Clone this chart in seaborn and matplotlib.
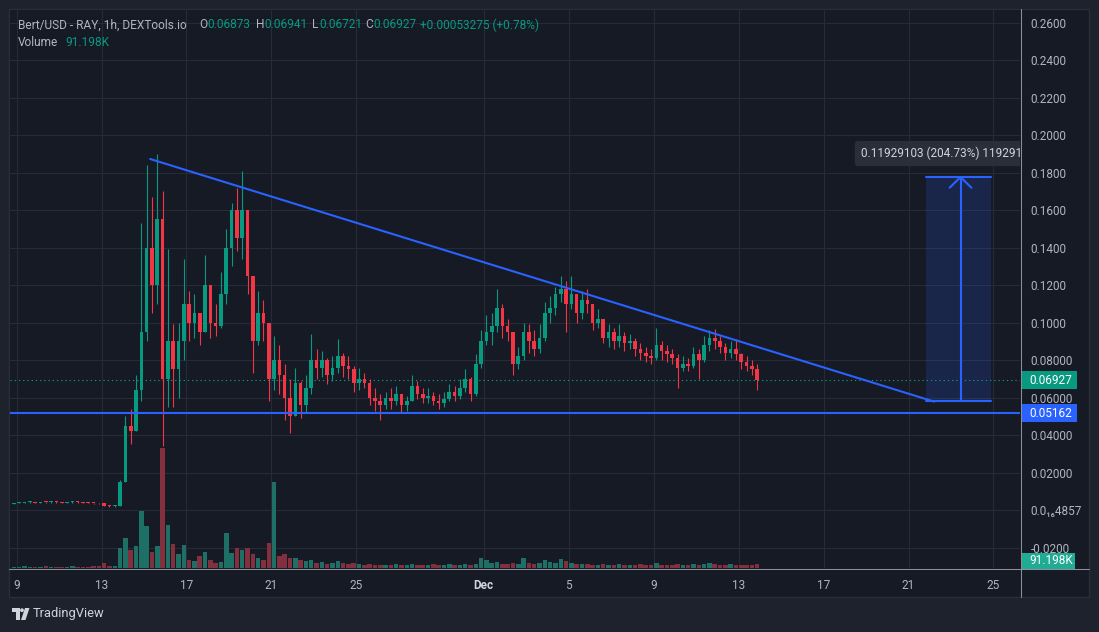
import numpy as np
import pandas as pd
import matplotlib
matplotlib.use("Agg")
import matplotlib.pyplot as plt
import matplotlib.dates as mdates
from matplotlib.patches import Rectangle, Polygon, Circle
import seaborn as sns

# ---------------- data (6-hour bars) ----------------
first_bar = "2024-11-08 18:00"
bar_freq = "6h"
first_open = 0.0034

close = [
    .0036, .0040, .0041, .0043, .0040, .0042, .0041, .0043, .0042, .0040, .0041, .0044, .0042, .0040, .0038, .0037, .0035, .0024, .0020, .0022, .0150,
    .0450, .0420, .0640, .0950, .1400, .1200, .1550, .0700, .0900, .0750, .0900, .1100, .1000, .1050, .0950, .1200, .1000, .0980, .1150, .1400,
    .1600, .1450, .1600, .1250, .0900, .1050, .1000, .0700, .0800, .0720, .0600, .0500, .0680, .0560, .0650, .0800, .0760, .0800, .0720, .0760,
    .0820, .0770, .0750, .0680, .0700, .0680, .0600, .0580, .0560, .0600, .0580, .0620, .0560, .0580, .0660, .0620, .0600, .0610, .0580, .0570,
    .0590, .0630, .0610, .0650, .0700, .0620, .0780, .0900, .0950, .0980, .1080, .0980, .0950, .0780, .0820, .0950, .0900, .0860, .0920, .1050,
    .1080, .1150, .1180, .1100, .1150, .1050, .1120, .1100, .1000, .1020, .0920, .0950, .0900, .0930, .0890, .0900, .0860, .0840, .0820, .0810,
    .0880, .0850, .0830, .0810, .0760, .0780, .0770, .0830, .0800, .0880, .0920, .0900, .0870, .0840, .0860, .0830, .0790, .0770, .0750, .06927,
]
high = [
    .0040, .0043, .0044, .0046, .0045, .0045, .0044, .0049, .0046, .0044, .0044, .0047, .0046, .0044, .0042, .0040, .0039, .0038, .0026, .0025, .0160,
    .0500, .0540, .0720, .1530, .1840, .1670, .1900, .1700, .1390, .0990, .1000, .1340, .1170, .1150, .1050, .1360, .1200, .1100, .1270, .1500,
    .1640, .1720, .1810, .1600, .1250, .1170, .1120, .1000, .0930, .0880, .0780, .0700, .0760, .0690, .0720, .0940, .0860, .0850, .0810, .0820,
    .0910, .0840, .0820, .0770, .0760, .0730, .0700, .0650, .0620, .0630, .0650, .0660, .0620, .0610, .0720, .0690, .0650, .0650, .0630, .0620,
    .0630, .0670, .0660, .0700, .0750, .0710, .0830, .0960, .1040, .1050, .1180, .1100, .1020, .0950, .0870, .1000, .0990, .0960, .0990, .1110,
    .1140, .1190, .1246, .1220, .1250, .1150, .1170, .1180, .1100, .1070, .1020, .0990, .0970, .0990, .0950, .0940, .0920, .0890, .0870, .0860,
    .0970, .0900, .0880, .0860, .0830, .0820, .0810, .0870, .0860, .0930, .0960, .0965, .0930, .0890, .0900, .0910, .0840, .0820, .0800, .0780,
]
low = [
    .0032, .0035, .0038, .0039, .0038, .0039, .0038, .0040, .0039, .0038, .0038, .0040, .0039, .0037, .0036, .0034, .0030, .0020, .0017, .0018, .0019,
    .0150, .0350, .0420, .0580, .0900, .1050, .1100, .0340, .0550, .0550, .0600, .0800, .0900, .0920, .0880, .0950, .0920, .0930, .0970, .1100,
    .1300, .1380, .1340, .1150, .0730, .0880, .0900, .0580, .0640, .0620, .0480, .0410, .0500, .0490, .0520, .0620, .0700, .0710, .0670, .0690,
    .0730, .0710, .0700, .0630, .0640, .0650, .0560, .0530, .0480, .0540, .0540, .0560, .0520, .0530, .0580, .0590, .0570, .0570, .0560, .0540,
    .0550, .0580, .0580, .0590, .0630, .0580, .0610, .0760, .0880, .0880, .0950, .0920, .0900, .0720, .0750, .0800, .0840, .0820, .0840, .0900,
    .1000, .1040, .1110, .0950, .1070, .1000, .1020, .1050, .0960, .0970, .0890, .0870, .0860, .0870, .0850, .0860, .0820, .0800, .0790, .0780,
    .0800, .0800, .0790, .0780, .0650, .0740, .0740, .0760, .0700, .0790, .0850, .0860, .0840, .0800, .0810, .0800, .0750, .0740, .0720, .0640,
]
volume_k = [
    25, 25, 50, 25, 25, 25, 50, 25, 25, 25, 25, 50, 25, 25, 25, 50, 50, 125, 50, 50, 500,
    750, 450, 550, 1425, 1050, 400, 550, 3000, 1075, 600, 350, 575, 200, 175, 300, 400, 200, 125, 150, 875,
    375, 500, 450, 500, 350, 250, 200, 625, 2150, 300, 350, 250, 250, 200, 175, 200, 125, 150, 100, 125,
    175, 125, 100, 125, 100, 75, 100, 75, 75, 75, 75, 100, 75, 75, 100, 75, 75, 75, 100, 75,
    75, 100, 75, 75, 100, 75, 100, 250, 200, 125, 150, 100, 100, 125, 100, 250, 125, 100, 125, 200,
    150, 125, 225, 175, 125, 100, 100, 100, 75, 75, 100, 75, 75, 100, 75, 75, 75, 100, 75, 75,
    125, 75, 75, 75, 100, 75, 75, 100, 75, 100, 125, 100, 75, 75, 100, 75, 75, 75, 75, 100,
]

price_ticks = [0.26, 0.24, 0.22, 0.20, 0.18, 0.16, 0.14, 0.12, 0.10, 0.08, 0.06, 0.04, 0.02, 0.0, -0.02]
price_labels = ["0.2600", "0.2400", "0.2200", "0.2000", "0.1800", "0.1600", "0.1400", "0.1200",
                "0.1000", "0.08000", "0.06000", "0.04000", "0.02000", "0.0\u2081\u20864857", "-0.0200"]
date_ticks = ["2024-11-09", "2024-11-13", "2024-11-17", "2024-11-21", "2024-11-25", "2024-12-01",
              "2024-12-05", "2024-12-09", "2024-12-13", "2024-12-17", "2024-12-21", "2024-12-25"]
date_labels = ["9", "13", "17", "21", "25", "Dec", "5", "9", "13", "17", "21", "25"]

last_price = 0.06927
support_level = 0.05162
trend_start = ("2024-11-15 07:00", 0.1872)
trend_end = ("2024-12-22 05:00", 0.0578)
measure_from = ("2024-12-21 19:40", 0.05827)
measure_to = ("2024-12-24 21:20", 0.17756)
measure_arrow_x = "2024-12-23 10:48"
measure_text = "0.11929103 (204.73%) 11929103"
measure_text_pos = ("2024-12-18 17:56", 0.1901)
last_volume = "91.198K"
x_range = ("2024-11-08 16:34", "2024-12-26 06:00")
y_range = (-0.03093, 0.26667)
vol_top = 13950  # volume (K) at the top of the pane

header_top = [("Bert/USD - RAY, 1h, DEXTools.io", 18, "txt"), ("O", 199, "txt"), ("0.06873", 207, "up"),
              ("H", 256, "txt"), ("0.06941", 264, "up"), ("L", 312, "txt"), ("0.06721", 319, "up"),
              ("C", 365, "txt"), ("0.06927", 373, "up"), ("+0.00053275 (+0.78%)", 420, "up")]
header_vol = [("Volume", 18, "txt"), ("91.198K", 65, "up")]

# ---------------- style ----------------
W, H = 1099, 632
BG_OUT = "#1e222d"
BG = "#161a25"
GRID = "#272b37"
TXT = "#b2b5be"
UP = "#089981"
DOWN = "#f23645"
VUP = "#1e6f66"
VDOWN = "#83303e"
BLUE = "#2962ff"
SEP = "#8c8f99"
FS = 8.5

sns.set_theme(style="dark")
plt.rcParams["font.family"] = ["Roboto", "DejaVu Sans"]

fig = plt.figure(figsize=(W / 100, H / 100), dpi=100, facecolor=BG_OUT)


def px_rect(x0, y0, x1, y1):
    return [x0 / W, 1 - y1 / H, (x1 - x0) / W, (y1 - y0) / H]


bg = fig.add_axes([0, 0, 1, 1], zorder=0)
bg.set_xlim(0, W)
bg.set_ylim(H, 0)
bg.axis("off")
bg.add_patch(Rectangle((9, 9), 1080, 588, fc=BG, ec="#2a2e39", lw=1))

axv = fig.add_axes(px_rect(10, 10, 1020, 568), zorder=1)
ax = fig.add_axes(px_rect(10, 10, 1020, 568), zorder=2, sharex=axv)
ax.patch.set_visible(False)
axv.set_facecolor(BG)

# ---------------- series ----------------
close_a = np.array(close)
high_a = np.array(high)
low_a = np.array(low)
opens = np.r_[first_open, close_a[:-1]]
up = close_a >= opens
t_start = pd.date_range(first_bar, periods=len(close), freq=bar_freq)
t_mid = mdates.date2num(t_start + pd.Timedelta(hours=3))

xlim = mdates.date2num(pd.to_datetime(list(x_range)))

# volume (seaborn)
vol_df = pd.DataFrame({"t": t_mid, "vol": volume_k, "dir": np.where(up, "up", "down")})
sns.barplot(data=vol_df, x="t", y="vol", hue="dir", palette={"up": VUP, "down": VDOWN},
            native_scale=True, dodge=False, errorbar=None, width=0.85, saturation=1,
            legend=False, linewidth=0, ax=axv)
axv.set_xlabel("")
axv.set_ylabel("")
axv.set_ylim(0, vol_top)
grid_vol = [(p - y_range[0]) / (y_range[1] - y_range[0]) * vol_top for p in price_ticks]
axv.set_yticks(grid_vol)
axv.tick_params(left=False, labelleft=False, bottom=False, labelbottom=False, right=False, labelright=False)
axv.grid(True, color=GRID, lw=0.8)
axv.set_axisbelow(True)
for s in axv.spines.values():
    s.set_visible(False)

# candles
colors = np.where(up, UP, DOWN)
body_lo = np.minimum(opens, close_a)
body_h = np.maximum(np.abs(close_a - opens), 0.0005)
ax.vlines(t_mid, low_a, high_a, colors=colors, lw=0.8, zorder=3)
ax.bar(t_mid, body_h, bottom=body_lo, width=0.17, color=colors, lw=0, zorder=4)

ax.set_xlim(*xlim)
ax.set_ylim(*y_range)
ax.set_xticks(mdates.date2num(pd.to_datetime(date_ticks)))
ax.set_xticklabels(date_labels)
ax.yaxis.tick_right()
ax.set_yticks(price_ticks)
ax.set_yticklabels(price_labels)
ax.tick_params(axis="both", length=0, colors=TXT, labelsize=FS)
ax.tick_params(axis="x", pad=8)
ax.tick_params(axis="y", pad=7.5)
ax.grid(False)
for s in ax.spines.values():
    s.set_visible(False)
dec_lbl = ax.get_xticklabels()[5]
dec_lbl.set_color("#d1d4dc")
dec_lbl.set_fontweight("bold")

# last price / support
ax.axhline(last_price, color=UP, lw=0.8, ls=(0, (1.2, 2.6)), zorder=2)
ax.axhline(support_level, color=BLUE, lw=1.5, zorder=5)

# trend line
ax.plot(mdates.date2num(pd.to_datetime([trend_start[0], trend_end[0]])),
        [trend_start[1], trend_end[1]], color=BLUE, lw=1.5, zorder=5, solid_capstyle="round")

# measure tool
mx0, mx1 = mdates.date2num(pd.to_datetime([measure_from[0], measure_to[0]]))
my0, my1 = measure_from[1], measure_to[1]
mxa = mdates.date2num(pd.Timestamp(measure_arrow_x))
ax.add_patch(Rectangle((mx0, my0), mx1 - mx0, my1 - my0, fc=BLUE, alpha=0.17, lw=0, zorder=2))
ax.plot([mx0, mx1], [my0, my0], color=BLUE, lw=1.5, zorder=5)
ax.plot([mx0, mx1], [my1, my1], color=BLUE, lw=1.5, zorder=5)
ax.plot([mxa, mxa], [my0, my1], color=BLUE, lw=1.5, zorder=5)
ax.plot([mxa - 0.515, mxa, mxa + 0.515], [my1 - 0.0057, my1, my1 - 0.0057], color=BLUE, lw=1.5, zorder=5)
ax.text(mdates.date2num(pd.Timestamp(measure_text_pos[0])), measure_text_pos[1], measure_text,
        color="#d1d4dc", fontsize=FS, ha="left", va="center", clip_on=True, zorder=6,
        bbox=dict(boxstyle="round,pad=0.5,rounding_size=0.3", fc="#2a2e39", ec="none"))

# ---------------- foreground overlay (pixels) ----------------
fg = fig.add_axes([0, 0, 1, 1], zorder=10)
fg.set_xlim(0, W)
fg.set_ylim(H, 0)
fg.axis("off")
fg.patch.set_visible(False)

fg.plot([1020.5, 1020.5], [9, 597], color=SEP, lw=0.75)
fg.plot([9, 1089], [568.5, 568.5], color=SEP, lw=0.75)


def price_py(p):
    return H - ax.transData.transform((xlim[0], p))[1]


def label_box(py, text, color, x1=1077, h=18):
    fg.add_patch(Rectangle((1021, py - h / 2), x1 - 1021, h, fc=color, ec="none"))
    fg.text(1029, py, text, color="white", fontsize=FS, ha="left", va="center")


label_box(price_py(last_price), f"{last_price:.5f}", UP)
label_box(price_py(support_level), f"{support_level:.5f}", BLUE)
label_box(560.5, last_volume, "#22ab94", 1075, 16)

cmap = {"txt": TXT, "up": UP}
for txt, x, c in header_top:
    fg.text(x, 25, txt, color=cmap[c], fontsize=8.6, ha="left", va="center")
for txt, x, c in header_vol:
    fg.text(x, 42.5, txt, color=cmap[c], fontsize=8.6, ha="left", va="center")

# TradingView logo
LOGO = "#d1d4dc"
fg.add_patch(Polygon([(12, 608), (19.5, 608), (19.5, 620), (15.5, 620), (15.5, 611.5), (12, 611.5)],
                     closed=True, fc=LOGO, ec="none"))
fg.add_patch(Circle((22, 610.2), 1.9, fc=LOGO, ec="none"))
fg.add_patch(Polygon([(25, 608), (29.5, 608), (25.5, 620), (21, 620)], closed=True, fc=LOGO, ec="none"))
fg.text(33, 614, "TradingView", color=LOGO, fontsize=9.3, ha="left", va="center")

fig.savefig("out.png", dpi=100, facecolor=BG_OUT)
